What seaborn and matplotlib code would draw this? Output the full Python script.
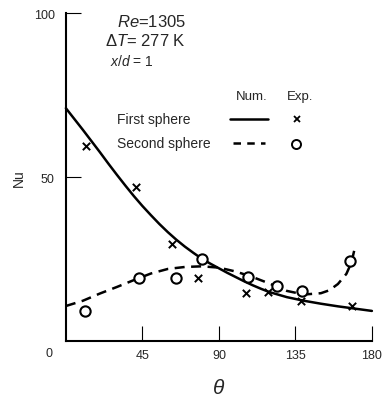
import matplotlib
matplotlib.use("Agg")
import matplotlib.pyplot as plt
import seaborn as sns
import pandas as pd

# Numerical Nusselt number distributions (angle in degrees)
num_theta_first = [0, 5, 10, 15, 20, 25, 30, 35, 40, 45, 50, 55, 60, 65, 70, 75, 80, 85,
                   90, 95, 100, 105, 110, 115, 120, 130, 140, 150, 160, 170, 180]
num_nu_first = [71, 67.7, 64.4, 61, 57.6, 54.1, 50.7, 47.4, 44.2, 41.2, 38.4, 35.7, 33.2,
                30.9, 28.8, 26.9, 25.1, 23.6, 22.2, 20.8, 19.5, 18.2, 17, 15.9, 14.9,
                13.4, 12.3, 11.4, 10.6, 9.9, 9.2]

num_theta_second = [0, 10, 20, 30, 40, 50, 60, 70, 80, 90, 100, 110, 120, 130, 140,
                    150, 155, 160, 165, 168, 170]
num_nu_second = [10.7, 12.3, 14.5, 16.5, 18.6, 20.6, 22, 22.6, 22.8, 22.4, 21.2, 19.5,
                 17.5, 15.3, 14.2, 14.6, 15.5, 17.4, 20.5, 24, 28.5]

# Experimental values
exp_theta_first = [12, 41, 62.5, 78, 106, 119, 138.5, 168.5]
exp_nu_first = [59.5, 47, 29.6, 19.2, 14.6, 14.9, 12.2, 10.7]

exp_theta_second = [11.5, 43, 65, 80, 107, 124, 139, 167]
exp_nu_second = [9.2, 19.2, 19.2, 25, 19.5, 16.8, 15.2, 24.4]

x_ticks = [45, 90, 135, 180]
y_ticks = [50, 100]

sns.set_theme(style="white")
plt.rcParams["font.family"] = ["Liberation Sans", "DejaVu Sans"]
plt.rcParams["mathtext.fontset"] = "custom"
plt.rcParams["mathtext.it"] = "Liberation Sans:italic"
plt.rcParams["mathtext.rm"] = "Liberation Sans"

fig = plt.figure(figsize=(3.83, 4.02), dpi=100)
ax = fig.add_axes([0.172, 0.149, 0.799, 0.816])

df1 = pd.DataFrame({"theta": num_theta_first, "Nu": num_nu_first})
df2 = pd.DataFrame({"theta": num_theta_second, "Nu": num_nu_second})
sns.lineplot(data=df1, x="theta", y="Nu", ax=ax, color="black", lw=1.8,
             sort=False, estimator=None)
sns.lineplot(data=df2, x="theta", y="Nu", ax=ax, color="black", lw=1.8,
             sort=False, estimator=None)
ax.lines[-1].set_dashes((4, 2.6))

e1 = pd.DataFrame({"theta": exp_theta_first, "Nu": exp_nu_first})
e2 = pd.DataFrame({"theta": exp_theta_second, "Nu": exp_nu_second})
sns.scatterplot(data=e1, x="theta", y="Nu", ax=ax, marker="x", s=28,
                color="black", linewidth=1.4, zorder=4)
sns.scatterplot(data=e2, x="theta", y="Nu", ax=ax, marker="o", s=55,
                facecolor="white", edgecolor="black", linewidth=1.5, zorder=4)

for ln in ax.lines:
    ln.set_clip_on(False)

ax.set_xlim(0, 180)
ax.set_ylim(0, 100)
ax.set_xticks(x_ticks)
ax.set_xticklabels([str(t) for t in x_ticks], fontsize=9)
ax.set_yticks(y_ticks)
ax.set_yticklabels([str(t) for t in y_ticks], fontsize=9)
ax.tick_params(axis="x", bottom=True, direction="in", length=11, width=0.8, pad=6,
               color="black")
ax.tick_params(axis="y", left=True, direction="in", length=11, width=0.8, pad=8,
               color="black")
ax.text(-10, -3.7, "0", fontsize=9, ha="center", va="center")

for side in ["top", "right"]:
    ax.spines[side].set_visible(False)
for side in ["left", "bottom"]:
    ax.spines[side].set_color("black")
    ax.spines[side].set_linewidth(1.5)

ax.set_xlabel(r"$\theta$", fontsize=15, labelpad=12)
ax.set_ylabel("Nu", fontsize=10, labelpad=6)

# Flow conditions
ax.text(0.167, 0.976, r"$Re$=1305", transform=ax.transAxes, fontsize=12, va="center")
ax.text(0.127, 0.918, r"Δ$T$= 277 K", transform=ax.transAxes, fontsize=12, va="center")
ax.text(0.144, 0.854, r"$x/d$ = 1", transform=ax.transAxes, fontsize=10, va="center")

# Key
ax.text(0.608, 0.747, "Num.", transform=ax.transAxes, fontsize=9.5, ha="center", va="center")
ax.text(0.765, 0.747, "Exp.", transform=ax.transAxes, fontsize=9.5, ha="center", va="center")
ax.text(0.167, 0.677, "First sphere", transform=ax.transAxes, fontsize=10, va="center")
ax.text(0.167, 0.604, "Second sphere", transform=ax.transAxes, fontsize=10, va="center")
ax.plot([0.536, 0.660], [0.677, 0.677], transform=ax.transAxes, color="black", lw=1.8)
ax.plot([0.546, 0.650], [0.604, 0.604], transform=ax.transAxes, color="black", lw=1.8,
        dashes=(3, 2.5))
ax.plot([0.755], [0.677], transform=ax.transAxes, marker="x", ms=5, mew=1.3,
        color="black", ls="none")
ax.plot([0.752], [0.600], transform=ax.transAxes, marker="o", ms=6.5, mew=1.4,
        mfc="white", mec="black", ls="none")

fig.savefig("out.png", dpi=100)
